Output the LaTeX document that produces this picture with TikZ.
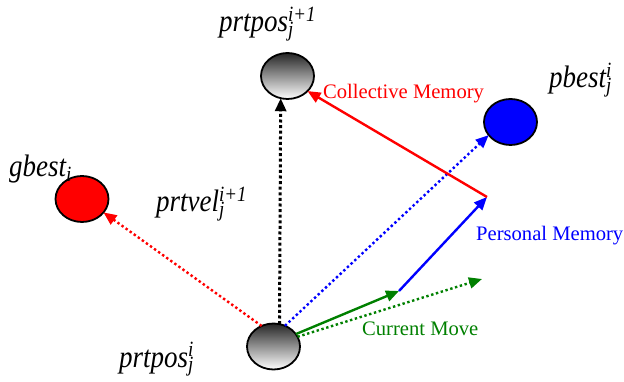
\documentclass[tikz,border=0pt]{standalone}
\usepackage{fontspec}
\usepackage{graphicx}
\setmainfont{Liberation Serif}
\usetikzlibrary{shapes.geometric,arrows.meta}
\definecolor{dgreen}{RGB}{0,128,0}
\newcommand{\supsub}[2]{\rlap{\textsuperscript{#1}}\textsubscript{#2}}
\newcommand{\tallit}[1]{\scalebox{1}[1.15]{#1}}
\tikzset{
  ell/.style={ellipse, draw=black, line width=1.8pt, minimum width=53pt, minimum height=46pt, inner sep=0pt, outer sep=0pt},
  grayell/.style={ell, top color=black!85, bottom color=white},
  ital/.style={font=\fontsize{27}{32}\selectfont\itshape, inner sep=0pt, anchor=base west},
  lbl/.style={font=\fontsize{20.6}{24}\selectfont, inner sep=0pt, anchor=base west},
  tip/.style={-{Triangle[length=13pt,width=11pt]}},
  solidarr/.style={tip, line width=2.4pt},
  dotarr/.style={tip, line width=2.4pt, dash pattern=on 2.4pt off 2.6pt},
}
\begin{document}
\begin{tikzpicture}[x=1pt,y=-1pt]
\useasboundingbox (0,0) rectangle (624,382);
% ellipses
\node[grayell] (top) at (287.5,76) {};
\node[grayell] (bot) at (273.5,346.5) {};
\node[ell, fill={rgb,255:red,255;green,0;blue,0}] (gb) at (82,199) {};
\node[ell, fill={rgb,255:red,0;green,0;blue,255}] (pb) at (510.5,122) {};
% labels
\node[ital] (ltop) at (219,32) {\tallit{prtpos\supsub{i+1}{j}}};
\node[ital] (lbot) at (119,367) {\tallit{prtpos\supsub{i}{j}}};
\node[ital] (lgb) at (9,177) {\tallit{gbest\textsubscript{i}}};
\node[ital] (lvel) at (156,212) {\tallit{prtvel\supsub{i+1}{j}}};
\node[ital] (lpb) at (549,88) {\tallit{pbest\supsub{i}{j}}};
\node[lbl, text=red] (lcm) at (323,99) {Collective Memory};
\node[lbl, text=blue] (lpm) at (476,241) {Personal Memory};
\node[lbl, text=dgreen] (lcur) at (362,335) {Current Move};
% intermediate points
\coordinate (p1) at (399,291);
\coordinate (p2) at (487,197);
\coordinate (g1) at (482,279);
% connectors
\draw[dotarr, line width=3pt, dash pattern=on 3pt off 2.6pt] (bot.75) -- (top.253);
\draw[dotarr, red] (bot.120) -- (gb.-32);
\draw[dotarr, blue] (bot.61) -- (pb.211);
\draw[dotarr, dgreen] (bot.22) -- (g1);
\draw[solidarr, dgreen] (bot.29) -- (p1);
\draw[solidarr, blue] (p1) -- (p2);
\draw[solidarr, red] (p2) -- (top.-37);
\end{tikzpicture}
\end{document}
